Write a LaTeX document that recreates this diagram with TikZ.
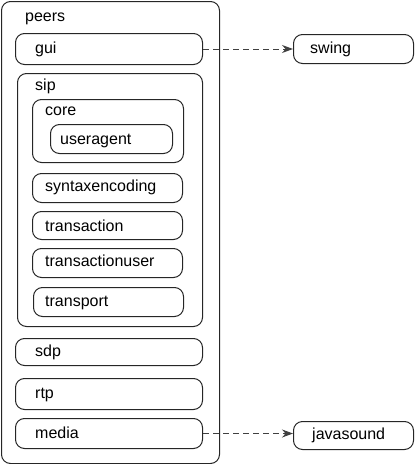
\documentclass[tikz,border=0pt]{standalone}
\usepackage{fontspec}
\setmainfont{Liberation Sans}
\usetikzlibrary{arrows.meta}
\begin{document}
\begin{tikzpicture}[x=1pt,y=-1pt,
  box/.style={draw=black!85, line width=1pt, rounded corners=9pt, inner sep=0pt, anchor=north west},
  lbl/.style={anchor=base west, inner sep=0pt, font=\fontsize{16}{19}\selectfont},
  dep/.style={draw=black!75, line width=1pt, dash pattern=on 6pt off 4pt, -{Stealth[length=11pt,width=8pt]}}]
\useasboundingbox (0,0) rectangle (415,464);
% containers
\node[box, minimum width=218pt, minimum height=462pt] (peers) at (1,1) {};
\node[lbl] (peersl) at (25,21.7) {peers};
\node[box, minimum width=187pt, minimum height=31pt] (gui) at (15,33) {};
\node[lbl] (guil) at (35,53) {gui};
\node[box, minimum width=185pt, minimum height=253pt] (sip) at (17,73) {};
\node[lbl] (sipl) at (35,90) {sip};
\node[box, minimum width=151pt, minimum height=63pt] (core) at (32,99) {};
\node[lbl] (corel) at (45,115) {core};
\node[box, minimum width=122pt, minimum height=29pt] (ua) at (50,124) {};
\node[lbl] (ual) at (60,144) {useragent};
\node[box, minimum width=150pt, minimum height=29pt] (syn) at (32,173) {};
\node[lbl] (synl) at (45,191.7) {syntaxencoding};
\node[box, minimum width=150pt, minimum height=28pt] (tr) at (32,211) {};
\node[lbl] (trl) at (45,231.7) {transaction};
\node[box, minimum width=150pt, minimum height=29pt] (tru) at (32,248) {};
\node[lbl] (trul) at (45,266.5) {transactionuser};
\node[box, minimum width=150pt, minimum height=29pt] (trp) at (33,287) {};
\node[lbl] (trpl) at (45,306.7) {transport};
\node[box, minimum width=187pt, minimum height=27pt] (sdp) at (15,338) {};
\node[lbl] (sdpl) at (35,356.7) {sdp};
\node[box, minimum width=187pt, minimum height=31pt] (rtp) at (15,378) {};
\node[lbl] (rtpl) at (35,398) {rtp};
\node[box, minimum width=187pt, minimum height=30pt] (media) at (15,418) {};
\node[lbl] (medial) at (35,438) {media};
\node[box, minimum width=120pt, minimum height=29pt] (swing) at (293,34) {};
\node[lbl] (swingl) at (310,53) {swing};
\node[box, minimum width=120pt, minimum height=28pt] (java) at (293,421) {};
\node[lbl] (javal) at (312,439) {javasound};
% dependencies
\draw[dep] (gui.east) -- (swing.west |- gui.east);
\draw[dep] (media.east) -- (java.west |- media.east);
\end{tikzpicture}
\end{document}
